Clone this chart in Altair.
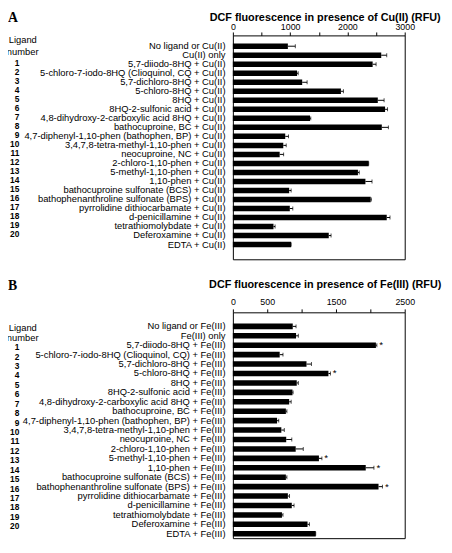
import altair as alt
import pandas as pd

FONT = "Liberation Sans"

ligand_numbers = ["", "", "1", "2", "3", "4", "5", "6", "7", "8", "9", "10",
                  "11", "12", "13", "14", "15", "16", "17", "18", "19", "20", ""]

cu_labels = [
    "No ligand or Cu(II)", "Cu(II) only", "5,7-diiodo-8HQ + Cu(II)",
    "5-chloro-7-iodo-8HQ (Clioquinol, CQ + Cu(II)", "5,7-dichloro-8HQ + Cu(II)",
    "5-chloro-8HQ + Cu(II)", "8HQ + Cu(II)", "8HQ-2-sulfonic acid + Cu(II)",
    "4,8-dihydroxy-2-carboxylic acid 8HQ + Cu(II)", "bathocuproine, BC + Cu(II)",
    "4,7-diphenyl-1,10-phen (bathophen, BP) + Cu(II)",
    "3,4,7,8-tetra-methyl-1,10-phen + Cu(II)", "neocuproine, NC + Cu(II)",
    "2-chloro-1,10-phen + Cu(II)", "5-methyl-1,10-phen + Cu(II)", "1,10-phen + Cu(II)",
    "bathocuproine sulfonate (BCS) + Cu(II)",
    "bathophenanthroline sulfonate (BPS) + Cu(II)",
    "pyrrolidine dithiocarbamate + Cu(II)", "d-penicillamine + Cu(II)",
    "tetrathiomolybdate + Cu(II)", "Deferoxamine + Cu(II)", "EDTA + Cu(II)",
]
cu_values = [960, 2590, 2440, 1120, 1210, 1886, 2530, 2657, 1347, 2600, 914, 880,
             817, 2371, 2183, 2314, 983, 2406, 994, 2686, 709, 1674, 1017]
cu_errors = [130, 96, 60, 20, 86, 44, 110, 43, 13, 115, 57, 51,
             69, 0, 23, 115, 34, 11, 52, 57, 28, 40, 0]
cu_stars = [""] * 23

fe_labels = [
    "No ligand or Fe(III)", "Fe(III) only", "5,7-diiodo-8HQ + Fe(III)",
    "5-chloro-7-iodo-8HQ (Clioquinol, CQ) + Fe(III)", "5,7-dichloro-8HQ + Fe(III)",
    "5-chloro-8HQ + Fe(III)", "8HQ + Fe(III)", "8HQ-2-sulfonic acid + Fe(III)",
    "4,8-dihydroxy-2-carboxylic acid 8HQ + Fe(III)", "bathocuproine, BC + Fe(III)",
    "4,7-diphenyl-1,10-phen (bathophen, BP) + Fe(III)",
    "3,4,7,8-tetra-methyl-1,10-phen + Fe(III)", "neocuproine, NC + Fe(III)",
    "2-chloro-1,10-phen + Fe(III)", "5-methyl-1,10-phen + Fe(III)", "1,10-phen + Fe(III)",
    "bathocuproine sulfonate (BCS) + Fe(III)",
    "bathophenanthroline  sulfonate (BPS) + Fe(III)",
    "pyrrolidine dithiocarbamate + Fe(III)", "d-penicillamine + Fe(III)",
    "tetrathiomolybdate + Fe(III)", "Deferoxamine + Fe(III)", "EDTA + Fe(III)",
]
fe_values = [871, 919, 2081, 681, 1071, 1390, 929, 867, 819, 771, 643, 705,
             776, 914, 1252, 1933, 771, 2119, 800, 857, 714, 1086, 1205]
fe_errors = [48, 33, 14, 48, 72, 29, 23, 9, 29, 15, 24, 43,
             81, 110, 43, 119, 15, 57, 24, 33, 15, 28, 0]
fe_stars = ["", "", "*", "", "", "*", "", "", "", "", "", "", "", "",
            "*", "*", "", "*", "", "", "", "", ""]

cu_ticks = [0, 500, 1000, 1500, 2000, 2500, 3000]
cu_tick_labels = ["0", "", "1000", "", "2000", "", "3000"]
fe_ticks = [0, 500, 1000, 1500, 2000, 2500]
fe_tick_labels = ["0", "500", "", "1500", "", "2500"]


def text_item(txt, x, y, size, weight="normal", font=FONT, align="center",
              baseline="middle"):
    return alt.Chart(pd.DataFrame({"t": [txt]})).mark_text(
        align=align, baseline=baseline, fontWeight=weight, fontSize=size,
        font=font, color="black").encode(
        text="t:N", x=alt.value(x), y=alt.value(y))


def panel(labels, values, errors, stars, title, letter, xmax, ticks, tick_labels,
          height, pad_inner, pad_outer, align, domain, label_pad, title_y,
          letter_y, hdr_y, num_dy):
    df = pd.DataFrame({
        "label": labels,
        "value": values,
        "hi": [v + e for v, e in zip(values, errors)],
        "num": ligand_numbers,
        "star": stars,
    })
    label_expr = " : ".join(
        f"datum.value == {v} ? '{t}'" for v, t in zip(ticks, tick_labels)) + " : ''"
    yscale = alt.Scale(domain=domain, paddingInner=pad_inner,
                       paddingOuter=pad_outer, align=align)
    yaxis = alt.Axis(ticks=False, domain=False, labelFontSize=9.55,
                     labelPadding=8, labelLimit=400, labelColor="black",
                     labelFont=FONT,
                     labelExpr="indexof(datum.value, '__') == 0 ? '' : datum.label")
    yenc = alt.Y("label:N", sort=None, title=None, scale=yscale, axis=yaxis)
    xscale = alt.Scale(domain=[0, xmax], nice=False, zero=True)
    xaxis = alt.Axis(orient="top", values=ticks, labelExpr=label_expr,
                     grid=False, domain=False, tickSize=3.5,
                     tickColor="black", labelPadding=label_pad,
                     labelFontSize=9, labelFont=FONT, labelColor="black",
                     labelFlush=False, labelOverlap=False)

    def xf(field):
        return alt.X(field, title=None, scale=xscale, axis=xaxis)

    base = alt.Chart(df)
    bars = base.mark_bar(color="black").encode(x=xf("value:Q"), y=yenc)
    err = base.mark_rule(color="black", strokeWidth=1).encode(
        x=xf("value:Q"), x2="hi:Q", y=yenc)
    cap = base.mark_tick(color="black", thickness=1, size=4).encode(
        x=xf("hi:Q"), y=yenc)
    star = base.mark_text(align="left", baseline="middle", dx=2.5, fontSize=10,
                          font=FONT, color="black").encode(
        x=xf("hi:Q"), y=yenc, text="star:N")
    nums = base.mark_text(align="right", baseline="middle", fontWeight="bold",
                          fontSize=8.5, font=FONT, color="black", dy=num_dy).encode(
        x=alt.value(-217.5), y=yenc, text="num:N")

    ttl = text_item(title, 94, title_y, 11, weight="bold", baseline="alphabetic")
    let = text_item(letter, -229, letter_y, 14, weight="bold",
                    font="Liberation Serif", align="left", baseline="alphabetic")
    h1 = text_item("Ligand", -214, hdr_y[0], 9.55)
    h2 = text_item("number", -214, hdr_y[1], 9.55)

    return alt.layer(bars, err, cap, star, nums, ttl, let, h1, h2).properties(
        width=175, height=height)


# panel A plot area: page y 31 .. 259 ; panel B: page y 313 .. 543
panel_a = panel(cu_labels, cu_values, cu_errors, cu_stars,
                "DCF fluorescence in presence of Cu(II) (RFU)", "A", 3000, cu_ticks,
                cu_tick_labels,
                228, 0.39, 0.611, 0.731, cu_labels + ["__b"], 0, -14.7, -13.5,
                [5, 16.7], -1.5)
panel_b = panel(fe_labels, fe_values, fe_errors, fe_stars,
                "DCF fluorescence in presence of Fe(III) (RFU)", "B", 2500, fe_ticks,
                fe_tick_labels,
                230, 0.41, 0.1845, 0.53, ["__a"] + fe_labels, 2.5, -24.5, -22.5,
                [16, 26], 2)

chart = alt.vconcat(panel_a, panel_b, spacing=54, bounds="flush").properties(
    autosize=alt.AutoSizeParams(type="none"),
    padding={"left": 229, "top": 23, "right": 40, "bottom": 512},
).configure_view(stroke="black", strokeWidth=1)

chart.save("out.html", embed_options={"renderer": "svg", "actions": False})
